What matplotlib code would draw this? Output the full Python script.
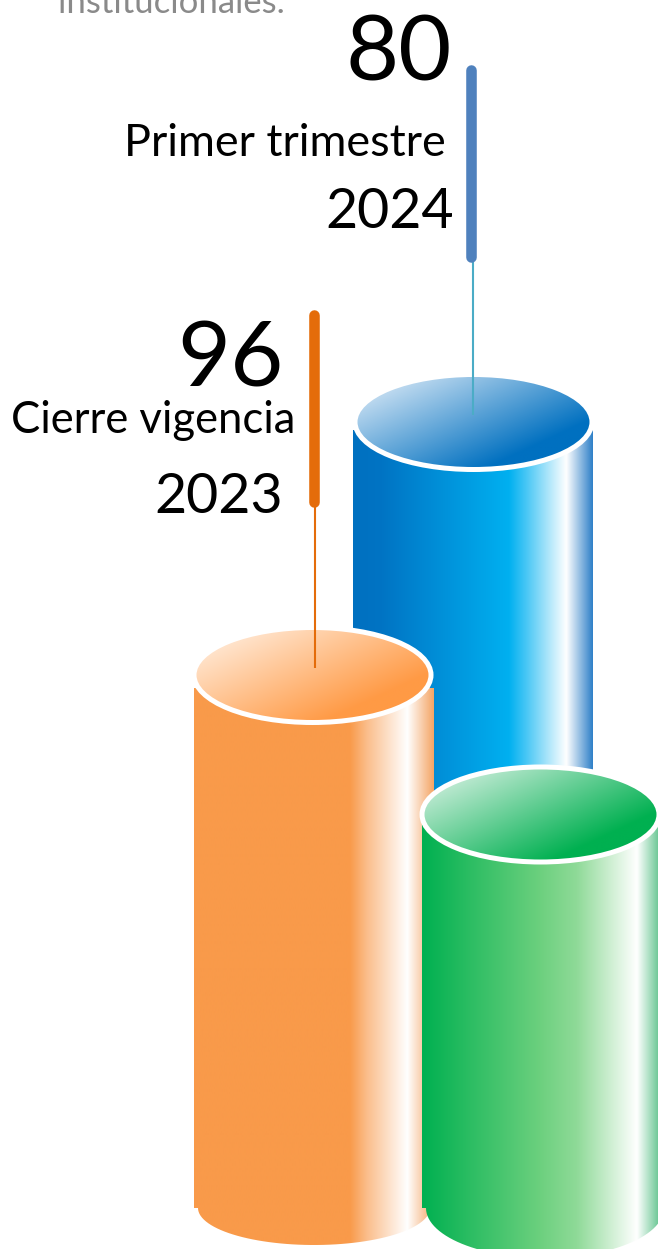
import numpy as np
import matplotlib
matplotlib.use('Agg')
import matplotlib.pyplot as plt
from matplotlib.colors import LinearSegmentedColormap
from matplotlib.patches import Ellipse, PathPatch
from matplotlib.path import Path

W, H = 658, 1249

# cylinders, back to front (values in image pixels, picture is not to scale)
names = ['blue', 'orange', 'green']
body_left = [353, 194, 422]
body_right = [593, 434, 668]
body_top = [430, 688, 825]
body_bottom = [1000, 1208, 1208]
foot_depth = [0, 37, 50]
top_x = [473.5, 312.5, 540.5]
top_y = [422, 675, 814.5]

# labels
value_labels = ['80', '96']
period_labels = ['Primer trimestre', 'Cierre vigencia']
year_labels = ['2024', '2023']
cropped_text = 'institucionales.'

# leader lines
bar_x = [471, 314]
bar_top = [70, 315]
bar_bottom = [257, 502]
stem_x = [473, 315]
stem_bottom = [415, 668]

body_stops = {
    'blue': [(0, '#0070c0'), (0.12, '#0074c4'), (0.65, '#00b0f0'), (0.72, '#45c6f5'),
             (0.89, '#ffffff'), (1, '#2f80c8')],
    'orange': [(0, '#f99a4a'), (0.65, '#f99a4a'), (0.72, '#fbbd8a'),
               (0.89, '#ffffff'), (1, '#f4a566')],
    'green': [(0, '#00b050'), (0.48, '#6cd07e'), (0.63, '#8fda98'),
              (0.875, '#ffffff'), (1, '#2db068')],
}
top_stops = {
    'blue': [(0, '#e8f1fa'), (1, '#0070c0')],
    'orange': [(0, '#fff4ea'), (1, '#ff9a45')],
    'green': [(0, '#e4f5ec'), (1, '#00b050')],
}
bar_colors = ['#4f81bd', '#e46c0a']
stem_colors = ['#4bacc6', '#e46c0a']


def body_path(left, right, top, bottom, foot):
    cx = (left + right) / 2
    a = (right - left) / 2 - 4
    th = np.linspace(np.pi, 0, 60)
    arc = np.column_stack([cx + a * np.cos(th), bottom + foot * np.sin(th)])
    pts = [(left, top), (left, bottom), (left + 4, bottom)] + [tuple(p) for p in arc]
    pts += [(right - 4, bottom), (right, bottom), (right, top), (left, top)]
    return Path(pts)


def draw_cylinder(ax, i):
    n = names[i]
    left, right = body_left[i], body_right[i]
    top, bottom = body_top[i], body_bottom[i]

    cmap = LinearSegmentedColormap.from_list(n + '_body', body_stops[n], N=512)
    grad = np.linspace(0, 1, 512).reshape(1, -1)
    im = ax.imshow(grad, cmap=cmap, extent=[left, right, bottom + foot_depth[i], top],
                   aspect='auto', zorder=i * 2 + 1, interpolation='bilinear')
    clip = PathPatch(body_path(left, right, top, bottom, foot_depth[i]),
                     transform=ax.transData, fc='none', ec='none')
    ax.add_patch(clip)
    im.set_clip_path(clip)

    # top face, shaded along a slanted direction
    a, b = 116.5, 45.5
    x0, y0 = top_x[i] - a, top_y[i] - b
    xx, yy = np.meshgrid(np.linspace(0, 2 * a, 240), np.linspace(0, 2 * b, 100))
    t = np.clip((xx * 0.42 + yy * 0.9) / 137, 0, 1)
    cmap2 = LinearSegmentedColormap.from_list(n + '_top', top_stops[n], N=256)
    im2 = ax.imshow(t, cmap=cmap2, vmin=0, vmax=1, extent=[x0, x0 + 2 * a, y0 + 2 * b, y0],
                    aspect='auto', zorder=i * 2 + 2, interpolation='bilinear')
    face = Ellipse((top_x[i], top_y[i]), 237, 95, fc='none', ec='none', transform=ax.transData)
    ax.add_patch(face)
    im2.set_clip_path(face)
    ax.add_patch(Ellipse((top_x[i], top_y[i]), 237, 95, fc='none', ec='white',
                         lw=3.6, zorder=i * 2 + 2.5))


fig = plt.figure(figsize=(W / 100, H / 100), dpi=100)
ax = fig.add_axes([0, 0, 1, 1])
ax.axis('off')

for i in range(len(names)):
    draw_cylinder(ax, i)

ax.set_xlim(0, W)
ax.set_ylim(H, 0)

# the stems end inside the top faces of blue and orange
stem_z = [3, 5]
for i in range(2):
    ax.plot([stem_x[i], stem_x[i]], [bar_bottom[i], stem_bottom[i]], color=stem_colors[i],
            lw=1.5, solid_capstyle='butt', zorder=stem_z[i])
    ax.plot([bar_x[i], bar_x[i]], [bar_top[i], bar_bottom[i]], color=bar_colors[i],
            lw=7.6, solid_capstyle='round', zorder=10)

font = 'Lato'
ax.text(452, 80, value_labels[0], ha='right', va='baseline', fontsize=66, family=font, color='black', zorder=11)
ax.text(446, 156, period_labels[0], ha='right', va='baseline', fontsize=32.3, family=font, color='black', zorder=11)
ax.text(454, 228, year_labels[0], ha='right', va='baseline', fontsize=40, family=font, color='black', zorder=11)
ax.text(284, 386, value_labels[1], ha='right', va='baseline', fontsize=66, family=font, color='black', zorder=11)
ax.text(295, 433, period_labels[1], ha='right', va='baseline', fontsize=31.4, family=font, color='black', zorder=11)
ax.text(283, 513, year_labels[1], ha='right', va='baseline', fontsize=40, family=font, color='black', zorder=11)
ax.text(58, 13, cropped_text, ha='left', va='baseline', fontsize=25, family=font, color='#8a8a8a', zorder=11)

fig.savefig('out.png', dpi=100)
